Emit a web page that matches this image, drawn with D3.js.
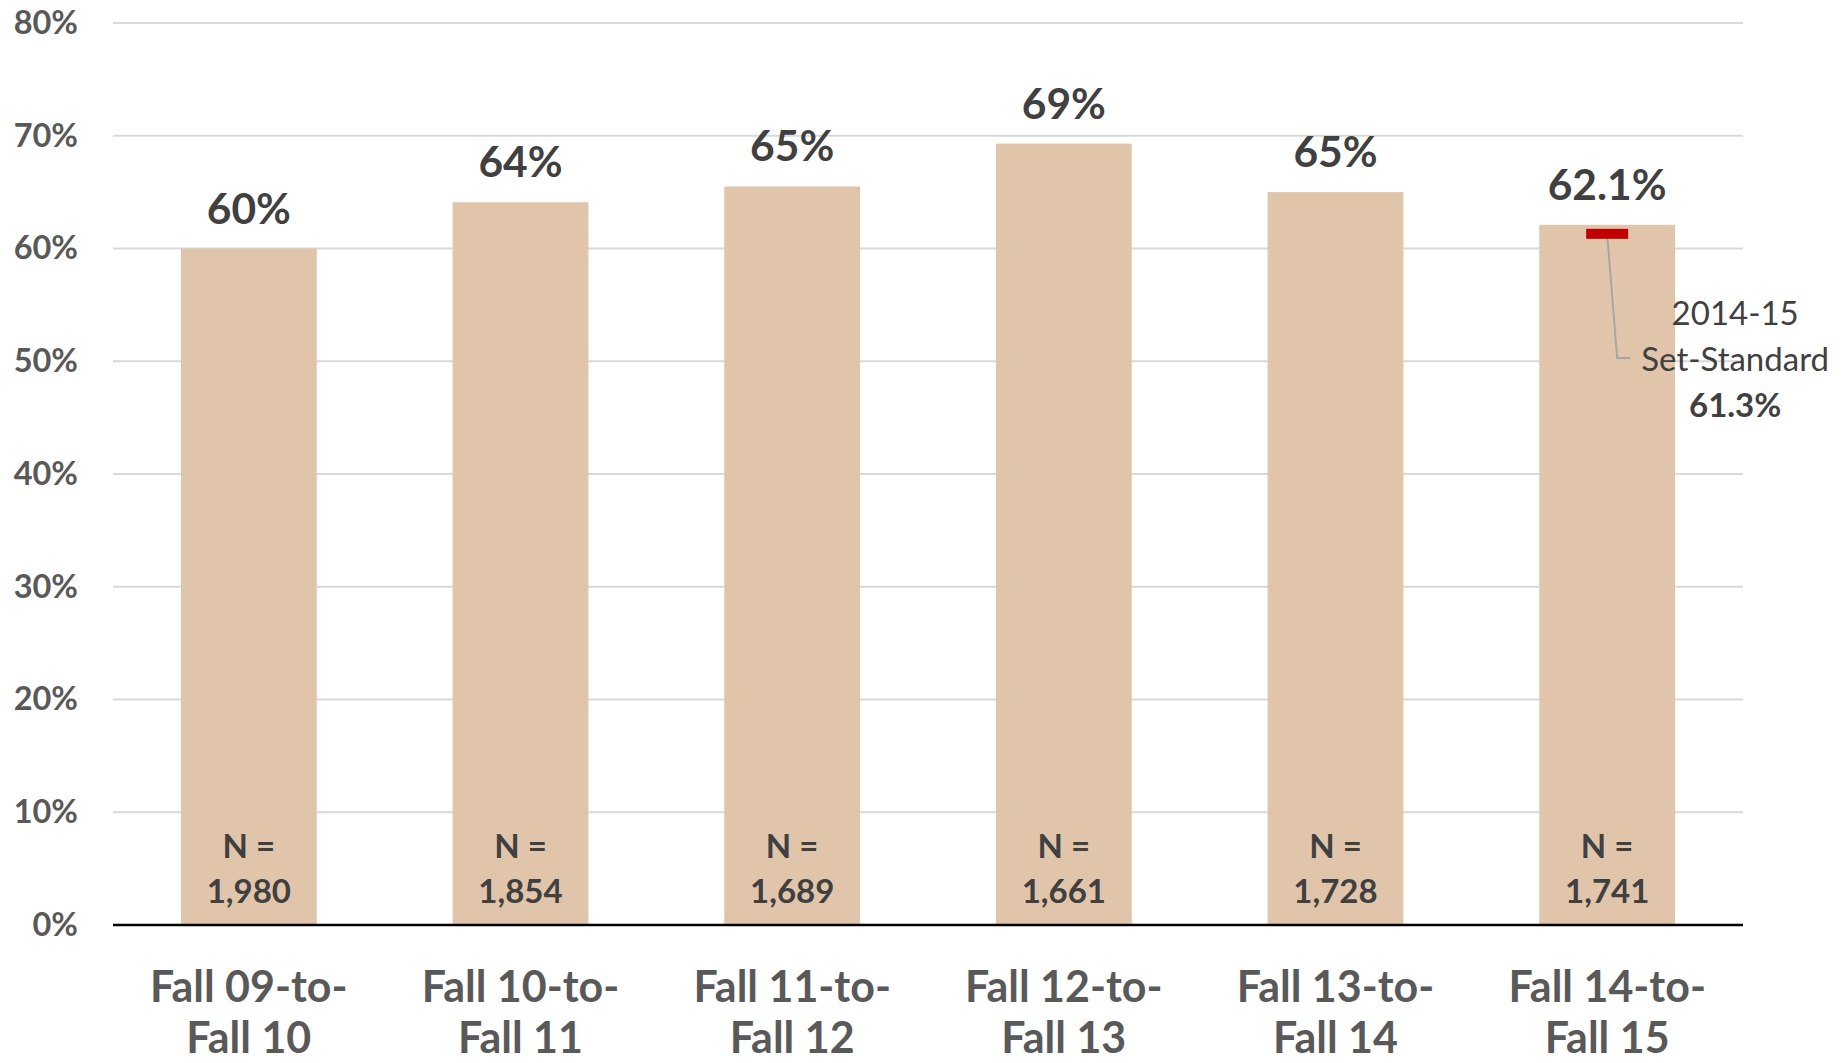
<!DOCTYPE html>
<html>
<head>
<meta charset="utf-8">
<script src="https://cdn.jsdelivr.net/npm/d3@7"></script>
<style>
  body { margin: 0; background: #fff; }
  svg { display: block; font-family: Lato, "Open Sans", sans-serif; }
</style>
</head>
<body>
<div id="chart"></div>
<script>
// values
const categories = ["Fall 09-to-|Fall 10", "Fall 10-to-|Fall 11", "Fall 11-to-|Fall 12",
  "Fall 12-to-|Fall 13", "Fall 13-to-|Fall 14", "Fall 14-to-|Fall 15"];
const rates = [0.600, 0.641, 0.655, 0.693, 0.650, 0.621];
const rateLabels = ["60%", "64%", "65%", "69%", "65%", "62.1%"];
const counts = [1980, 1854, 1689, 1661, 1728, 1741];
const yTicks = [0, 0.1, 0.2, 0.3, 0.4, 0.5, 0.6, 0.7, 0.8];
const standard = { value: 0.613, lines: ["2014-15", "Set-Standard"], label: "61.3%" };

const width = 1844, height = 1063;
const margin = { top: 23, right: 101, bottom: 138, left: 113 };

const svg = d3.select("#chart").append("svg")
  .attr("width", width)
  .attr("height", height);

const x = d3.scaleBand()
  .domain(categories)
  .range([margin.left, width - margin.right])
  .paddingInner(0.5)
  .paddingOuter(0.25);

const y = d3.scaleLinear()
  .domain([0, 0.8])
  .range([height - margin.bottom, margin.top]);

const mid = cat => x(cat) + x.bandwidth() / 2;

// gridlines
svg.append("g")
  .selectAll("line")
  .data(yTicks.filter(d => d > 0))
  .join("line")
  .attr("x1", margin.left)
  .attr("x2", width - margin.right)
  .attr("y1", d => y(d))
  .attr("y2", d => y(d))
  .attr("stroke", "#d9d9d9")
  .attr("stroke-width", 2);

// y axis labels
const yAxis = svg.append("g")
  .attr("transform", `translate(${margin.left},0)`)
  .call(d3.axisLeft(y).tickValues(yTicks).tickFormat(d3.format(".0%")).tickSize(0).tickPadding(35));
yAxis.select(".domain").remove();
yAxis.selectAll("text")
  .attr("fill", "#595959")
  .attr("font-size", 32.5)
  .attr("font-weight", 700)
  .attr("font-family", "Lato, sans-serif");

// bars
svg.append("g")
  .selectAll("rect")
  .data(rates)
  .join("rect")
  .attr("x", (d, i) => x(categories[i]))
  .attr("width", x.bandwidth())
  .attr("y", d => y(d))
  .attr("height", d => y(0) - y(d))
  .attr("fill", "#e0c5ab");

// value labels
svg.append("g")
  .selectAll("text")
  .data(rates)
  .join("text")
  .attr("x", (d, i) => mid(categories[i]))
  .attr("y", d => y(d) - 25)
  .attr("text-anchor", "middle")
  .attr("fill", "#404040")
  .attr("font-size", 42.5)
  .attr("font-weight", 700)
  .text((d, i) => rateLabels[i]);

// N labels
const nGroup = svg.append("g")
  .attr("text-anchor", "middle")
  .attr("fill", "#404040")
  .attr("font-size", 33)
  .attr("font-weight", 700);
nGroup.selectAll(".n-head")
  .data(counts)
  .join("text")
  .attr("class", "n-head")
  .attr("x", (d, i) => mid(categories[i]))
  .attr("y", y(0) - 67)
  .text("N =");
nGroup.selectAll(".n-val")
  .data(counts)
  .join("text")
  .attr("class", "n-val")
  .attr("x", (d, i) => mid(categories[i]))
  .attr("y", y(0) - 22)
  .text(d => d3.format(",")(d));

// baseline axis
svg.append("line")
  .attr("x1", margin.left)
  .attr("x2", width - margin.right)
  .attr("y1", y(0))
  .attr("y2", y(0))
  .attr("stroke", "#000")
  .attr("stroke-width", 2.5);

// category labels
svg.append("g")
  .attr("text-anchor", "middle")
  .attr("fill", "#595959")
  .attr("font-size", 43)
  .attr("font-weight", 700)
  .selectAll("text")
  .data(categories.flatMap(cat => cat.split("|").map((line, i) => ({ cat, line, i }))))
  .join("text")
  .attr("x", d => mid(d.cat))
  .attr("y", d => y(0) + 77 + d.i * 51)
  .text(d => d.line);

// set-standard marker and annotation
const cx = mid(categories[categories.length - 1]);
const annX = cx + 128;
const annY = 325;

svg.append("polyline")
  .attr("points", [[cx, y(standard.value)], [cx + 10, annY + 33], [cx + 23, annY + 33]].join(" "))
  .attr("fill", "none")
  .attr("stroke", "#a6a6a6")
  .attr("stroke-width", 2);

svg.append("rect")
  .attr("x", cx - 21)
  .attr("y", y(standard.value) - 5)
  .attr("width", 42)
  .attr("height", 10)
  .attr("fill", "#c00000");

const ann = svg.append("g")
  .attr("text-anchor", "middle")
  .attr("fill", "#404040")
  .attr("font-size", 33);
standard.lines.forEach((line, i) => {
  ann.append("text").attr("x", annX).attr("y", annY + i * 46).text(line);
});
ann.append("text")
  .attr("x", annX)
  .attr("y", annY + 92)
  .attr("font-weight", 700)
  .text(standard.label);
</script>
</body>
</html>
